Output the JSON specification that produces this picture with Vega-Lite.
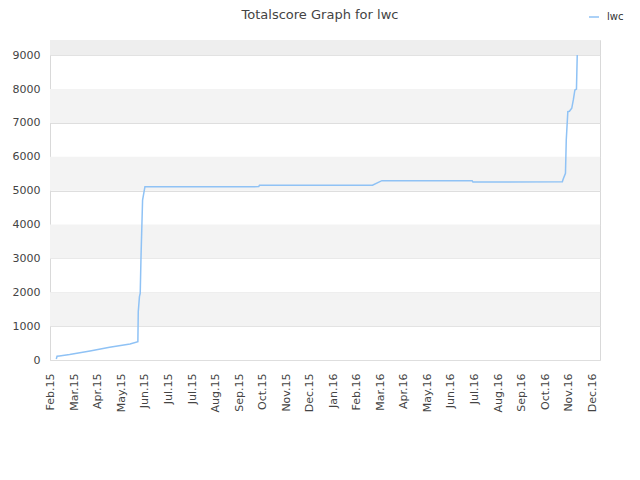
{
  "$schema": "https://vega.github.io/schema/vega-lite/v6.json",
  "width": 550,
  "height": 320,
  "autosize": {"type": "none"},
  "padding": {"left": 50, "top": 40, "right": 40, "bottom": 120},
  "background": "white",
  "title": {
    "text": "Totalscore Graph for lwc",
    "fontSize": 13,
    "font": "DejaVu Sans",
    "fontWeight": "normal",
    "color": "#444444",
    "anchor": "middle",
    "offset": 20,
    "dx": -5,
    "dy": 31
  },
  "config": {
    "view": {"stroke": "#d9d9d9", "strokeWidth": 1},
    "font": "DejaVu Sans",
    "axisY": {
      "title": null,
      "values": [0, 1000, 2000, 3000, 4000, 5000, 6000, 7000, 8000, 9000],
      "format": "d",
      "labelOverlap": false,
      "grid": true,
      "gridColor": "#dedede",
      "gridWidth": 1,
      "ticks": false,
      "tickSize": 0,
      "domain": false,
      "labelPadding": 10,
      "labelFontSize": 11,
      "labelColor": "#444444",
      "labelFont": "DejaVu Sans",
      "zindex": 1
    }
  },
  "datasets": {
    "bands": [
      {"lo": 1000, "hi": 2000, "shade": "light"},
      {"lo": 3000, "hi": 4000, "shade": "light"},
      {"lo": 5000, "hi": 6000, "shade": "light"},
      {"lo": 7000, "hi": 8000, "shade": "light"},
      {"lo": 9000, "hi": 9450, "shade": "dark"}
    ],
    "score": [
      {"date": "2015-02-08", "score": 30, "series": "lwc"},
      {"date": "2015-02-09", "score": 110, "series": "lwc"},
      {"date": "2015-02-12", "score": 120, "series": "lwc"},
      {"date": "2015-02-25", "score": 160, "series": "lwc"},
      {"date": "2015-03-23", "score": 265, "series": "lwc"},
      {"date": "2015-04-17", "score": 375, "series": "lwc"},
      {"date": "2015-05-13", "score": 470, "series": "lwc"},
      {"date": "2015-05-23", "score": 540, "series": "lwc"},
      {"date": "2015-05-23T12:00", "score": 1430, "series": "lwc"},
      {"date": "2015-05-25", "score": 1870, "series": "lwc"},
      {"date": "2015-05-26", "score": 1970, "series": "lwc"},
      {"date": "2015-05-27", "score": 3050, "series": "lwc"},
      {"date": "2015-05-29", "score": 4725, "series": "lwc"},
      {"date": "2015-06-01", "score": 5118, "series": "lwc"},
      {"date": "2015-10-24", "score": 5120, "series": "lwc"},
      {"date": "2015-10-25", "score": 5160, "series": "lwc"},
      {"date": "2016-03-17", "score": 5160, "series": "lwc"},
      {"date": "2016-03-29", "score": 5295, "series": "lwc"},
      {"date": "2016-07-22", "score": 5295, "series": "lwc"},
      {"date": "2016-07-23", "score": 5257, "series": "lwc"},
      {"date": "2016-11-14", "score": 5262, "series": "lwc"},
      {"date": "2016-11-15", "score": 5336, "series": "lwc"},
      {"date": "2016-11-18", "score": 5513, "series": "lwc"},
      {"date": "2016-11-19", "score": 6497, "series": "lwc"},
      {"date": "2016-11-21", "score": 7333, "series": "lwc"},
      {"date": "2016-11-23", "score": 7345, "series": "lwc"},
      {"date": "2016-11-26", "score": 7433, "series": "lwc"},
      {"date": "2016-11-28", "score": 7680, "series": "lwc"},
      {"date": "2016-11-30", "score": 7974, "series": "lwc"},
      {"date": "2016-12-02", "score": 8000, "series": "lwc"},
      {"date": "2016-12-03", "score": 9008, "series": "lwc"}
    ]
  },
  "layer": [
    {
      "data": {"name": "bands"},
      "mark": {"type": "rect", "strokeWidth": 0},
      "encoding": {
        "y": {"field": "lo", "type": "quantitative", "scale": {"domain": [0, 9450], "nice": false, "zero": true}},
        "y2": {"field": "hi"},
        "fill": {
          "field": "shade",
          "type": "nominal",
          "scale": {"domain": ["light", "dark"], "range": ["#f3f3f3", "#eeeeee"]},
          "legend": null
        }
      }
    },
    {
      "data": {"name": "score"},
      "mark": {"type": "line", "strokeWidth": 1.5, "interpolate": "linear"},
      "encoding": {
        "x": {
          "field": "date",
          "type": "temporal",
          "scale": {"domain": [{"year": 2015, "month": "jan", "date": 31}, {"year": 2017, "month": "jan", "date": 1}]},
          "axis": {
            "title": null,
            "grid": false,
            "ticks": false,
            "tickSize": 0,
            "domain": false,
            "labelAngle": -90,
            "labelPadding": 13,
            "labelFontSize": 11,
            "labelColor": "#444444",
            "labelFont": "DejaVu Sans",
            "format": "%b.%y",
            "labelOverlap": false,
            "values": [
              {"year": 2015, "month": "feb", "date": 1},
              {"year": 2015, "month": "mar", "date": 3},
              {"year": 2015, "month": "apr", "date": 2},
              {"year": 2015, "month": "may", "date": 2},
              {"year": 2015, "month": "jun", "date": 1},
              {"year": 2015, "month": "jul", "date": 1},
              {"year": 2015, "month": "jul", "date": 31},
              {"year": 2015, "month": "aug", "date": 30},
              {"year": 2015, "month": "sep", "date": 29},
              {"year": 2015, "month": "oct", "date": 29},
              {"year": 2015, "month": "nov", "date": 28},
              {"year": 2015, "month": "dec", "date": 28},
              {"year": 2016, "month": "jan", "date": 27},
              {"year": 2016, "month": "feb", "date": 26},
              {"year": 2016, "month": "mar", "date": 27},
              {"year": 2016, "month": "apr", "date": 26},
              {"year": 2016, "month": "may", "date": 26},
              {"year": 2016, "month": "jun", "date": 25},
              {"year": 2016, "month": "jul", "date": 25},
              {"year": 2016, "month": "aug", "date": 24},
              {"year": 2016, "month": "sep", "date": 23},
              {"year": 2016, "month": "oct", "date": 23},
              {"year": 2016, "month": "nov", "date": 22},
              {"year": 2016, "month": "dec", "date": 22}
            ]
          }
        },
        "y": {"field": "score", "type": "quantitative"},
        "color": {
          "field": "series",
          "type": "nominal",
          "scale": {"range": ["#8fc2f5"]},
          "legend": {
            "title": null,
            "orient": "none",
            "legendX": 538,
            "legendY": -29,
            "symbolType": "stroke",
            "symbolSize": 100,
            "symbolStrokeWidth": 1.5,
            "labelFontSize": 10,
            "labelColor": "#333333",
            "labelFont": "DejaVu Sans",
            "labelOffset": 7
          }
        }
      }
    }
  ]
}
